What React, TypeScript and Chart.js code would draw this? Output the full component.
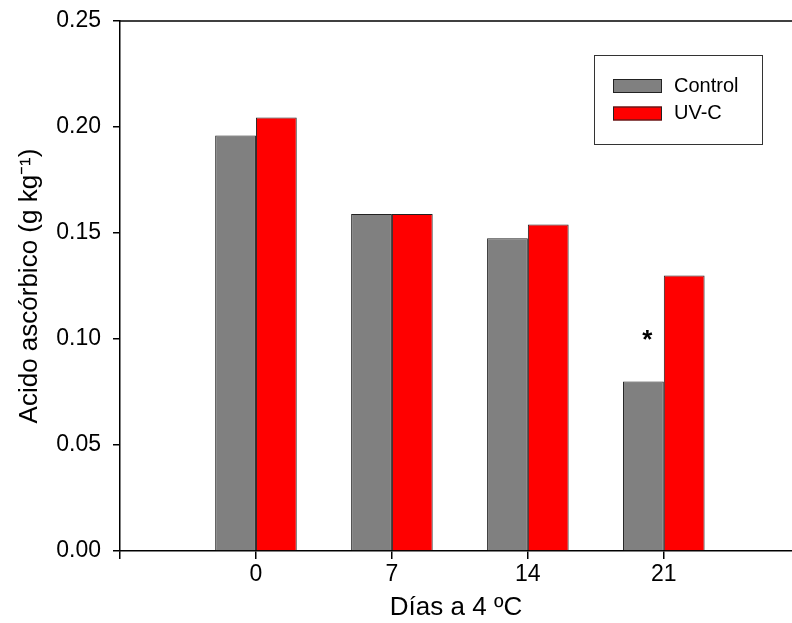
import React, { useEffect, useRef } from 'react';
import { Chart, registerables } from 'chart.js';

Chart.register(...registerables);

const days = [0, 7, 14, 21];
const controlValues = [0.196, 0.159, 0.1475, 0.08];
const uvcValues = [0.2045, 0.159, 0.154, 0.13];
const seriesLabels = ['Control', 'UV-C'];
const seriesColors = ['#808080', '#ff0000'];
const yTickValues = [0, 0.05, 0.1, 0.15, 0.2, 0.25];
const xTickValues = [-7, 0, 7, 14, 21];
const xTitle = 'Días a 4 ºC';
const yTitle = 'Acido ascórbico (g kg⁻¹)';
const markers = [{ day: 21, series: 0, value: 0.103, text: '*' }];

const FONT = "'Liberation Sans', Arial, Helvetica, sans-serif";

export default function App() {
  const ref = useRef<HTMLCanvasElement | null>(null);

  useEffect(() => {
    document.body.style.margin = '0';
    const canvas = ref.current;
    if (!canvas) return;

    const framePlugin = {
      id: 'frame',
      afterDraw(chart: any) {
        const { ctx, chartArea } = chart;
        ctx.save();
        // top frame line
        ctx.strokeStyle = '#000';
        ctx.lineWidth = 1.5;
        ctx.beginPath();
        ctx.moveTo(chartArea.left, chartArea.top);
        ctx.lineTo(chartArea.right, chartArea.top);
        ctx.stroke();

        // significance markers
        const yScale = chart.scales.y;
        markers.forEach((m) => {
          const meta = chart.getDatasetMeta(m.series);
          const idx = days.indexOf(m.day);
          const el = meta.data[idx];
          if (!el) return;
          const fs = 26;
          ctx.font = `bold ${fs}px ${FONT}`;
          ctx.fillStyle = '#000';
          ctx.textAlign = 'center';
          ctx.textBaseline = 'alphabetic';
          ctx.fillText(m.text, el.x + 4, yScale.getPixelForValue(m.value) + fs * 0.58);
        });

        // legend box
        const bx = 594.5;
        const by = 55.5;
        const bw = 168;
        const bh = 89;
        ctx.lineWidth = 1;
        ctx.strokeStyle = '#333';
        ctx.strokeRect(bx, by, bw, bh);
        chart.data.datasets.forEach((ds: any, i: number) => {
          const sy = 79 + i * 27.5;
          ctx.fillStyle = ds.backgroundColor;
          ctx.fillRect(613, sy, 49, 14);
          ctx.strokeStyle = '#222';
          ctx.lineWidth = 1;
          ctx.strokeRect(613.5, sy + 0.5, 48, 13);
          ctx.fillStyle = '#000';
          ctx.font = `20px ${FONT}`;
          ctx.textAlign = 'left';
          ctx.textBaseline = 'middle';
          ctx.fillText(ds.label, 674, sy + 7);
        });
        ctx.restore();
      },
    };

    const chart = new Chart(canvas, {
      type: 'bar',
      data: {
        datasets: [
          {
            label: seriesLabels[0],
            data: days.map((d, i) => ({ x: d, y: controlValues[i] })),
            backgroundColor: seriesColors[0],
            borderColor: '#222',
            borderWidth: 1,
          },
          {
            label: seriesLabels[1],
            data: days.map((d, i) => ({ x: d, y: uvcValues[i] })),
            backgroundColor: seriesColors[1],
            borderColor: '#222',
            borderWidth: 1,
          },
        ],
      },
      options: {
        responsive: false,
        animation: false,
        devicePixelRatio: 1,
        layout: { padding: { top: 21, left: 0, right: 0, bottom: 0 } },
        datasets: { bar: { categoryPercentage: 0.6, barPercentage: 1.0 } },
        plugins: {
          legend: { display: false },
          tooltip: { enabled: false },
        },
        scales: {
          x: {
            type: 'linear',
            min: -7,
            max: 27.6,
            offset: false,
            afterBuildTicks: (scale: any) => {
              scale.ticks = xTickValues.map((v) => ({ value: v }));
            },
            afterFit: (scale: any) => {
              scale.height = 72;
              scale.paddingLeft = 0;
              scale.paddingRight = 0;
            },
            ticks: {
              color: '#000',
              font: { family: FONT, size: 23 },
              padding: 2,
              maxRotation: 0,
              autoSkip: false,
              callback: (v: any) => (Number(v) < 0 ? '' : String(v)),
            },
            grid: {
              offset: false,
              drawOnChartArea: false,
              drawTicks: true,
              tickLength: 8,
              color: '#000',
              lineWidth: 1.5,
            },
            border: { display: true, color: '#000', width: 1.5 },
            title: {
              display: true,
              text: xTitle,
              color: '#000',
              font: { family: FONT, size: 26 },
              padding: { top: 0, bottom: 0 },
            },
          },
          y: {
            type: 'linear',
            min: 0,
            max: 0.25,
            afterBuildTicks: (scale: any) => {
              scale.ticks = yTickValues.map((v) => ({ value: v }));
            },
            afterFit: (scale: any) => {
              scale.width = 120;
              scale.paddingTop = 0;
              scale.paddingBottom = 0;
            },
            ticks: {
              color: '#000',
              font: { family: FONT, size: 23 },
              padding: 12,
              callback: (v: any) => Number(v).toFixed(2),
            },
            grid: {
              drawOnChartArea: false,
              drawTicks: true,
              tickLength: 7,
              color: '#000',
              lineWidth: 1.5,
            },
            border: { display: true, color: '#000', width: 1.5 },
            title: {
              display: true,
              text: yTitle,
              color: '#000',
              font: { family: FONT, size: 26 },
              padding: { top: 14, bottom: 0 },
            },
          },
        },
      },
      plugins: [framePlugin],
    });

    return () => {
      chart.destroy();
    };
  }, []);

  return (
    <div style={{ width: 792, height: 623 }}>
      <canvas ref={ref} width={792} height={623} style={{ display: 'block' }} />
    </div>
  );
}
